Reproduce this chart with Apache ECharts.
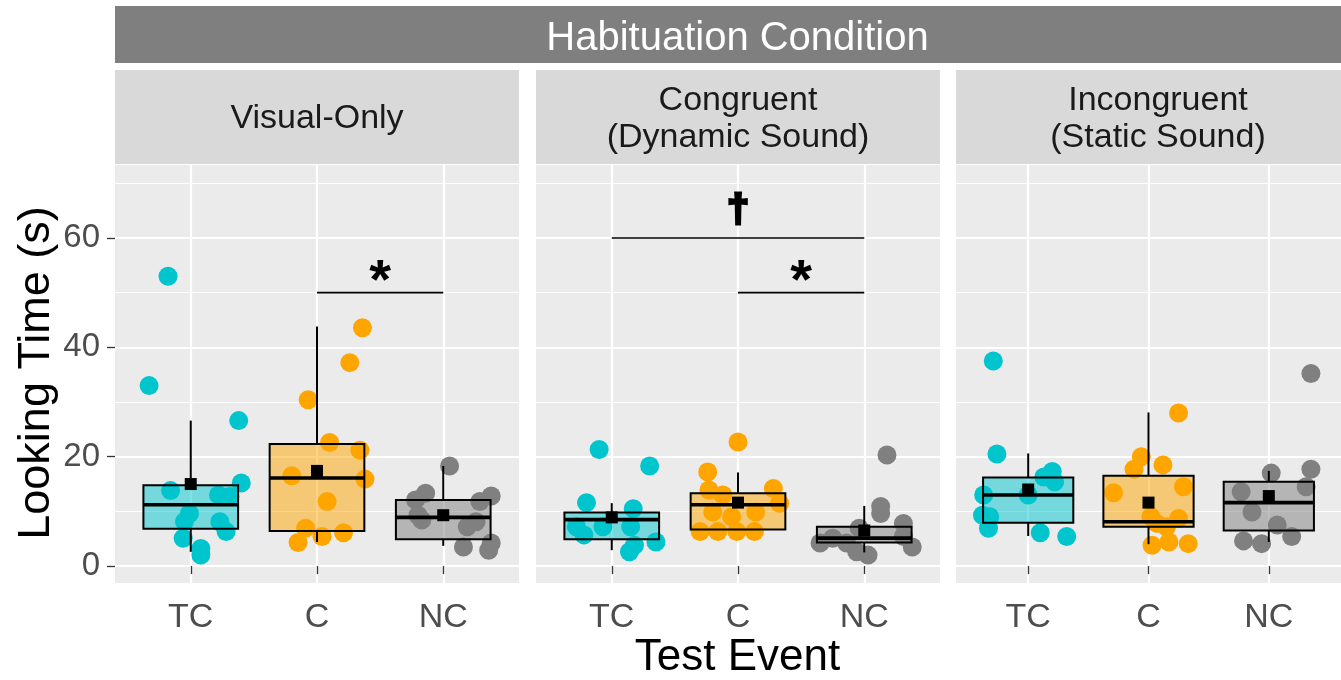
<!DOCTYPE html>
<html>
<head>
<meta charset="utf-8">
<script src="https://cdn.jsdelivr.net/npm/echarts@6/dist/echarts.min.js"></script>
<style>
  html, body { margin: 0; padding: 0; background: #ffffff; }
  #chart { width: 1341px; height: 680px; }
</style>
</head>
<body>
<div id="chart"></div>
<script>
// Facets, test events and axis ticks
const conditions = ['Visual-Only', 'Congruent\n(Dynamic Sound)', 'Incongruent\n(Static Sound)'];
const events = ['TC', 'C', 'NC'];
const yTicks = [0, 20, 40, 60];
const yMinorTicks = [10, 30, 50, 70];

// Individual looking times: [jittered event position, seconds]
const visualTC = [[0.82,53.0],[0.67,33.0],[1.38,26.6],[1.40,15.2],[0.84,13.8],[1.22,13.0],[1.31,12.7],[0.99,9.6],[0.95,8.1],[1.23,8.1],[1.28,6.3],[0.94,5.1],[1.08,3.2],[1.08,2.0]];
const visualC = [[2.36,43.6],[2.26,37.2],[1.93,30.4],[2.10,22.6],[2.34,21.2],[1.80,16.5],[2.38,15.9],[2.08,11.8],[1.91,6.9],[2.21,6.1],[2.04,5.4],[1.85,4.3]];
const visualNC = [[3.05,18.3],[2.86,13.3],[3.38,12.8],[2.78,12.1],[3.29,11.8],[2.80,9.3],[2.83,8.4],[3.26,8.1],[3.19,7.2],[3.16,3.5],[3.38,4.2],[3.36,2.9]];

const congruentTC = [[0.90,21.3],[1.30,18.3],[0.80,11.6],[1.17,10.5],[0.72,7.2],[0.78,5.7],[0.93,7.2],[1.15,7.2],[1.35,4.4],[1.14,2.6],[1.18,3.8]];
const congruentC = [[2.00,22.7],[1.76,17.2],[2.28,14.2],[1.77,13.9],[1.88,13.0],[2.33,11.5],[1.80,9.9],[1.95,9.0],[2.14,9.9],[1.70,6.3],[1.84,6.3],[1.99,6.3],[2.13,6.3]];
const congruentNC = [[3.18,20.3],[3.13,10.9],[3.13,9.6],[3.31,7.8],[3.38,3.5],[3.31,5.4],[2.96,6.9],[2.65,4.2],[2.75,5.1],[2.94,2.6],[3.03,2.0],[2.86,4.2]];

const incongruentTC = [[0.71,37.5],[0.74,20.5],[1.20,17.3],[1.13,16.3],[1.22,15.4],[0.63,13.0],[1.00,13.0],[0.62,9.3],[0.68,9.0],[0.67,6.9],[1.10,6.1],[1.32,5.4]];
const incongruentC = [[2.25,28.0],[1.94,20.0],[2.12,18.5],[1.88,17.7],[1.71,13.4],[2.29,14.5],[2.02,9.0],[2.25,8.7],[2.15,7.2],[2.07,7.8],[2.17,4.4],[2.33,4.1],[2.03,3.8]];
const incongruentNC = [[3.35,35.2],[3.35,17.7],[3.02,17.0],[3.31,14.5],[2.77,13.6],[2.86,9.9],[3.07,7.5],[3.19,5.4],[2.79,4.6],[2.94,4.1]];

// Box summaries per event: [lower whisker, Q1, median, Q3, upper whisker, mean]
const visualBoxes = [[2.6,6.8,11.2,14.8,26.6,15.0],[4.4,6.4,16.1,22.3,43.8,17.4],[3.7,4.9,8.9,12.1,18.3,9.3]];
const congruentBoxes = [[2.9,4.9,8.5,9.8,11.5,8.9],[6.6,6.7,11.2,13.3,17.1,11.6],[2.5,4.3,5.1,7.2,11.0,6.5]];
const incongruentBoxes = [[5.5,7.9,13.0,16.2,20.6,14.0],[4.0,7.2,8.1,16.5,28.1,11.6],[4.4,6.5,11.6,15.4,17.4,12.8]];

// Pairwise comparison brackets: facet, from event, to event, height (s), marker
const brackets = [
  { facet: 0, from: 2, to: 3, y: 50, mark: '*' },
  { facet: 1, from: 1, to: 3, y: 60, mark: '\u2020' },
  { facet: 1, from: 2, to: 3, y: 50, mark: '*' }
];

const points = [
  [visualTC, visualC, visualNC],
  [congruentTC, congruentC, congruentNC],
  [incongruentTC, incongruentC, incongruentNC]
];
const boxes = [visualBoxes, congruentBoxes, incongruentBoxes];

const FONT = '"Liberation Sans", Arial, Helvetica, sans-serif';
const eventColors = ['#00C5CD', '#FFA500', '#808080'];
const Y_MIN = -3.1, Y_MAX = 73.35;
const panelLeft = [115, 536, 956];
const panelWidth = 404;
const panelTop = 165, panelHeight = 418;
const BOX_WIDTH = 0.75;

function withAlpha(hex, a) {
  const n = parseInt(hex.slice(1), 16);
  return 'rgba(' + (n >> 16 & 255) + ',' + (n >> 8 & 255) + ',' + (n & 255) + ',' + a + ')';
}

const grids = [], xAxes = [], yAxes = [], series = [];

conditions.forEach(function (cond, i) {
  grids.push({
    left: panelLeft[i], top: panelTop, width: panelWidth, height: panelHeight,
    show: true, backgroundColor: '#EBEBEB', borderWidth: 0, containLabel: false
  });
  xAxes.push({
    gridIndex: i, type: 'value', min: 0.4, max: 3.6,
    axisLine: { show: false },
    axisTick: { show: true, customValues: [1, 2, 3], length: 8, lineStyle: { color: '#333333', width: 1.3 } },
    axisLabel: {
      show: true, customValues: [1, 2, 3], margin: 18,
      formatter: function (v) { return events[Math.round(v) - 1]; },
      color: '#4D4D4D', fontSize: 34, fontFamily: FONT
    },
    splitLine: { show: true, lineStyle: { color: '#FFFFFF', width: 2.2 } }
  });
  yAxes.push({
    gridIndex: i, type: 'value', min: Y_MIN, max: Y_MAX,
    axisLine: { show: false },
    axisTick: { show: i === 0, customValues: yTicks, length: 8, lineStyle: { color: '#333333', width: 1.3 } },
    axisLabel: { show: i === 0, customValues: yTicks, margin: 15, color: '#4D4D4D', fontSize: 33, fontFamily: FONT },
    splitLine: { show: true, lineStyle: { color: '#FFFFFF', width: 2.2 } }
  });
  yAxes.push({
    gridIndex: i, type: 'value', min: Y_MIN, max: Y_MAX,
    axisLine: { show: false },
    axisTick: { show: false, customValues: yMinorTicks },
    axisLabel: { show: false, customValues: yMinorTicks },
    splitLine: { show: true, lineStyle: { color: '#FFFFFF', width: 1.1 } }
  });

  // jittered individual points
  points[i].forEach(function (pts, j) {
    series.push({
      type: 'scatter', xAxisIndex: i, yAxisIndex: i * 2,
      data: pts, symbol: 'circle', symbolSize: 19,
      itemStyle: { color: eventColors[j], opacity: 1 },
      z: 2, silent: true
    });
  });

  // box-and-whisker with mean square
  series.push({
    type: 'custom', xAxisIndex: i, yAxisIndex: i * 2, z: 3, silent: true,
    data: boxes[i].map(function (b, j) { return [j + 1].concat(b); }),
    encode: { x: 0, y: [1, 2, 3, 4, 5, 6] },
    renderItem: function (params, api) {
      const x = api.value(0);
      const lo = api.coord([x, api.value(1)]);
      const q1 = api.coord([x, api.value(2)]);
      const md = api.coord([x, api.value(3)]);
      const q3 = api.coord([x, api.value(4)]);
      const hi = api.coord([x, api.value(5)]);
      const mn = api.coord([x, api.value(6)]);
      const half = api.size([BOX_WIDTH, 0])[0] / 2;
      const color = eventColors[params.dataIndex];
      const cx = q1[0];
      const sq = 12;
      return {
        type: 'group',
        children: [
          { type: 'line', shape: { x1: cx, y1: lo[1], x2: cx, y2: q1[1] }, style: { stroke: '#000', lineWidth: 2 } },
          { type: 'line', shape: { x1: cx, y1: q3[1], x2: cx, y2: hi[1] }, style: { stroke: '#000', lineWidth: 2 } },
          { type: 'rect', shape: { x: cx - half, y: q3[1], width: half * 2, height: q1[1] - q3[1] },
            style: { fill: withAlpha(color, 0.5), stroke: '#000', lineWidth: 2 } },
          { type: 'line', shape: { x1: cx - half, y1: md[1], x2: cx + half, y2: md[1] }, style: { stroke: '#000', lineWidth: 3.6 } },
          { type: 'rect', shape: { x: cx - sq / 2, y: mn[1] - sq / 2, width: sq, height: sq }, style: { fill: '#000' } }
        ]
      };
    }
  });

  // significance brackets
  const own = brackets.filter(function (b) { return b.facet === i; });
  if (own.length) {
    series.push({
      type: 'custom', xAxisIndex: i, yAxisIndex: i * 2, z: 4, silent: true,
      data: own.map(function (b) { return [b.from, b.to, b.y]; }),
      encode: { x: [0, 1], y: 2 },
      renderItem: function (params, api) {
        const a = api.coord([api.value(0), api.value(2)]);
        const b = api.coord([api.value(1), api.value(2)]);
        const mark = own[params.dataIndex].mark;
        const isStar = mark === '*';
        return {
          type: 'group',
          children: [
            { type: 'line', shape: { x1: a[0], y1: a[1], x2: b[0], y2: b[1] }, style: { stroke: '#000', lineWidth: 1.6 } },
            { type: 'text', x: (a[0] + b[0]) / 2, y: a[1] - (isStar ? 10 : 28),
              style: {
                text: mark, fill: '#000',
                stroke: isStar ? null : '#000', lineWidth: isStar ? 0 : 3,
                font: 'bold ' + (isStar ? 56 : 39) + 'px ' + FONT,
                align: 'center', verticalAlign: 'middle',
                textAlign: 'center', textVerticalAlign: 'middle'
              } }
          ]
        };
      }
    });
  }
});

// facet strips and axis titles
const graphics = [
  { type: 'rect', shape: { x: 115, y: 6, width: 1260, height: 57 }, style: { fill: '#7F7F7F' }, silent: true },
  { type: 'text', x: 737.5, y: 39, style: { text: 'Habituation Condition', fill: '#FFFFFF', font: '40px ' + FONT, align: 'center', verticalAlign: 'middle', textAlign: 'center', textVerticalAlign: 'middle' } },
  { type: 'text', x: 37, y: 373, rotation: Math.PI / 2, style: { text: 'Looking Time (s)', fill: '#000000', font: '45px ' + FONT, align: 'center', verticalAlign: 'middle', textAlign: 'center', textVerticalAlign: 'middle' } },
  { type: 'text', x: 737.5, y: 658, style: { text: 'Test Event', fill: '#000000', font: '44px ' + FONT, align: 'center', verticalAlign: 'middle', textAlign: 'center', textVerticalAlign: 'middle' } }
];
conditions.forEach(function (cond, i) {
  graphics.push({ type: 'rect', shape: { x: panelLeft[i], y: 70, width: panelWidth, height: 94 }, style: { fill: '#D9D9D9' }, silent: true });
  graphics.push({ type: 'text', x: panelLeft[i] + panelWidth / 2, y: 119, style: { text: cond, fill: '#1A1A1A', font: '34px ' + FONT, lineHeight: 37, align: 'center', verticalAlign: 'middle', textAlign: 'center', textVerticalAlign: 'middle' } });
});

const chart = echarts.init(document.getElementById('chart'), null, { renderer: 'canvas' });
chart.setOption({
  animation: false,
  backgroundColor: '#FFFFFF',
  textStyle: { fontFamily: FONT },
  grid: grids,
  xAxis: xAxes,
  yAxis: yAxes,
  series: series,
  graphic: graphics
});
</script>
</body>
</html>
